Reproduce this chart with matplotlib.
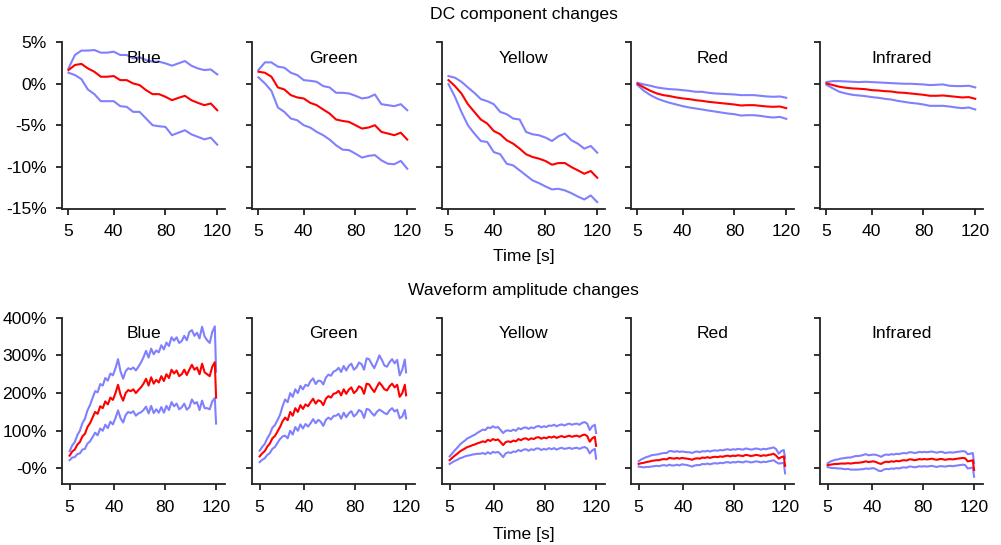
import numpy as np
import matplotlib
matplotlib.use("Agg")
import matplotlib.pyplot as plt

plt.rcParams['font.family'] = ['Liberation Sans', 'DejaVu Sans']

channels = ["Blue", "Green", "Yellow", "Red", "Infrared"]
x_ticks = [5, 40, 80, 120]
dc_yticks = [5, 0, -5, -10, -15]
dc_ylabels = ["5%", "0%", "-5%", "-10%", "-15%"]
amp_yticks = [400, 300, 200, 100, 0]
amp_ylabels = ["400%", "300%", "200%", "100%", "-0%"]

# ---- DC component changes (percent), sampled every 5 s from 5 to 120 s ----
t_dc = np.arange(5, 121, 5)

dc_mean = {
    "Blue": [1.65, 2.26, 2.4, 1.85, 1.45, 0.85, 0.85, 0.93, 0.44, 0.44, 0.04, -0.16,
             -0.77, -1.25, -1.25, -1.57, -1.98, -1.7, -1.45, -1.98, -2.3, -2.58, -2.38, -3.19],
    "Green": [1.45, 1.33, 0.85, -0.44, -0.69, -1.37, -1.65, -1.77, -2.3, -2.58, -3.1, -3.59,
              -4.31, -4.48, -4.6, -5.0, -5.4, -5.28, -5.0, -5.8, -6.0, -6.2, -5.9, -6.73],
    "Yellow": [0.44, -0.28, -1.17, -2.46, -3.39, -4.31, -4.8, -5.69, -6.09, -6.81, -7.22, -7.82,
               -8.5, -8.83, -9.03, -9.31, -9.76, -9.56, -9.56, -10.04, -10.44, -10.85, -10.52, -11.33],
    "Red": [0.0, -0.44, -0.85, -1.17, -1.37, -1.49, -1.65, -1.77, -1.85, -1.98, -2.06, -2.18,
            -2.26, -2.34, -2.42, -2.5, -2.62, -2.58, -2.58, -2.66, -2.74, -2.78, -2.74, -2.94],
    "Infrared": [0.04, -0.16, -0.36, -0.48, -0.56, -0.6, -0.65, -0.77, -0.81, -0.89, -0.93, -1.05,
                 -1.09, -1.17, -1.25, -1.33, -1.45, -1.45, -1.41, -1.49, -1.57, -1.65, -1.61, -1.81],
}
dc_upper = {
    "Blue": [1.85, 3.47, 4.0, 4.0, 4.07, 3.75, 3.75, 3.87, 3.47, 3.47, 3.06, 3.19,
             2.86, 2.66, 2.66, 2.46, 2.18, 2.46, 2.74, 2.18, 1.85, 1.65, 1.73, 1.13],
    "Green": [1.65, 2.58, 2.58, 2.06, 1.94, 1.33, 1.05, 0.44, 0.36, 0.24, -0.28, -0.44,
              -1.09, -1.09, -1.17, -1.45, -1.77, -1.65, -1.29, -2.46, -2.58, -2.7, -2.46, -3.19],
    "Yellow": [0.93, 0.73, 0.24, -0.44, -1.09, -1.85, -2.1, -2.46, -3.39, -3.67, -4.19, -4.31,
               -5.81, -6.09, -6.21, -6.49, -6.9, -6.33, -6.0, -6.81, -7.22, -7.82, -7.5, -8.31],
    "Red": [0.12, -0.08, -0.24, -0.44, -0.56, -0.65, -0.69, -0.77, -0.85, -0.97, -0.97, -1.09,
            -1.17, -1.21, -1.25, -1.29, -1.37, -1.37, -1.37, -1.45, -1.53, -1.57, -1.53, -1.69],
    "Infrared": [0.2, 0.32, 0.32, 0.28, 0.24, 0.2, 0.24, 0.2, 0.16, 0.12, 0.08, 0.04,
                 0.0, 0.0, -0.04, -0.08, -0.16, -0.12, -0.08, -0.24, -0.28, -0.28, -0.24, -0.44],
}
dc_lower = {
    "Blue": [1.33, 1.05, 0.56, -0.69, -1.25, -2.1, -2.1, -2.1, -2.7, -2.78, -3.39, -3.39,
             -4.19, -5.0, -5.12, -5.2, -6.2, -5.9, -5.6, -6.1, -6.4, -6.7, -6.5, -7.34],
    "Green": [0.77, 0.04, -0.85, -2.86, -3.39, -4.19, -4.4, -5.0, -5.28, -5.8, -6.2, -6.73,
              -7.42, -7.94, -8.0, -8.43, -8.9, -8.7, -8.6, -9.23, -9.64, -9.7, -9.3, -10.24],
    "Yellow": [-0.04, -1.57, -3.39, -5.0, -6.0, -6.9, -7.02, -8.23, -8.5, -9.64, -9.84, -10.44,
               -11.05, -11.65, -11.98, -12.38, -12.74, -12.66, -12.86, -13.19, -13.6, -13.95, -13.47, -14.27],
    "Red": [-0.16, -0.85, -1.37, -1.77, -2.06, -2.3, -2.5, -2.7, -2.86, -2.98, -3.1, -3.23,
            -3.35, -3.47, -3.59, -3.67, -3.83, -3.79, -3.79, -3.87, -3.99, -4.07, -3.99, -4.23],
    "Infrared": [-0.12, -0.56, -0.97, -1.17, -1.33, -1.41, -1.49, -1.61, -1.69, -1.81, -1.9, -2.06,
                 -2.18, -2.3, -2.38, -2.5, -2.66, -2.66, -2.66, -2.74, -2.86, -2.94, -2.86, -3.1],
}

# ---- Waveform amplitude changes (percent), sampled every 2 s from 5 to 119 s plus 120 s ----
t_amp = np.r_[np.arange(5, 120, 2), 120]

amp_mean = {
    "Blue": [34, 45, 50, 63, 70, 85, 92, 110, 120, 135,
             150, 145, 165, 160, 178, 170, 188, 182, 200, 222,
             195, 180, 200, 208, 205, 210, 200, 208, 215, 225,
             238, 220, 242, 225, 235, 228, 245, 232, 250, 240,
             262, 252, 260, 245, 250, 262, 248, 262, 275, 262,
             268, 250, 278, 255, 250, 245, 270, 282, 188],
    "Green": [32, 40, 46, 58, 66, 80, 86, 98, 110, 125,
              135, 128, 150, 140, 160, 150, 168, 158, 170, 165,
              176, 185, 172, 181, 178, 168, 185, 192, 188, 198,
              200, 206, 194, 210, 198, 209, 215, 200, 206, 218,
              214, 198, 225, 223, 212, 203, 216, 228, 220, 210,
              207, 218, 225, 215, 222, 190, 200, 222, 194],
    "Yellow": [22, 28, 34, 39, 45, 49, 53, 57, 59, 62,
               64, 67, 69, 72, 70, 76, 73, 78, 75, 77,
               70, 62, 70, 72, 70, 74, 72, 78, 75, 79,
               80, 76, 80, 78, 82, 83, 79, 82, 80, 84,
               82, 85, 81, 84, 86, 83, 85, 87, 84, 86,
               87, 84, 88, 90, 86, 71, 80, 84, 60],
    "Red": [12, 14, 15, 17, 18, 20, 21, 22, 22, 24,
            25, 24, 28, 27, 26, 28, 26, 28, 27, 26,
            25, 23, 26, 27, 26, 29, 28, 30, 28, 30,
            31, 30, 32, 31, 33, 34, 32, 34, 33, 35,
            34, 33, 36, 35, 33, 34, 36, 35, 33, 35,
            34, 36, 37, 39, 34, 26, 30, 32, 7],
    "Infrared": [9, 10, 11, 12, 12, 13, 13, 13, 14, 13,
                 14, 15, 15, 16, 17, 19, 17, 18, 19, 17,
                 14, 12, 16, 18, 17, 19, 18, 20, 19, 21,
                 22, 21, 24, 24, 22, 23, 25, 24, 25, 24,
                 25, 26, 24, 23, 25, 25, 23, 24, 25, 24,
                 25, 26, 27, 28, 27, 19, 20, 22, -4],
}
amp_sd = {
    "Blue": [12, 16, 20, 25, 30, 35, 40, 44, 48, 52,
             55, 57, 59, 60, 62, 63, 64, 65, 66, 68,
             62, 58, 58, 58, 58, 58, 60, 62, 66, 70,
             74, 74, 76, 78, 78, 80, 82, 84, 84, 85,
             86, 87, 88, 88, 88, 90, 92, 100, 92, 90,
             92, 95, 98, 95, 90, 88, 92, 95, 69],
    "Green": [15, 17, 19, 22, 25, 28, 29, 30, 32, 40,
              48, 48, 50, 50, 50, 50, 51, 52, 52, 54,
              56, 54, 52, 52, 54, 55, 56, 57, 58, 59,
              60, 61, 62, 62, 62, 63, 63, 62, 62, 63,
              63, 64, 67, 67, 65, 63, 66, 72, 68, 63,
              63, 64, 65, 64, 66, 57, 62, 67, 61],
    "Yellow": [10, 12, 14, 16, 18, 20, 21, 23, 24, 25,
               26, 28, 30, 31, 32, 33, 34, 34, 33, 33,
               32, 32, 30, 29, 29, 29, 28, 29, 29, 29,
               29, 29, 29, 29, 29, 30, 30, 30, 30, 30,
               31, 31, 31, 31, 31, 31, 32, 32, 32, 32,
               32, 32, 33, 33, 33, 31, 32, 32, 34],
    "Red": [7, 10, 12, 13, 14, 15, 15, 15, 16, 16,
            16, 17, 18, 19, 18, 18, 18, 17, 17, 17,
            18, 18, 18, 18, 17, 17, 17, 17, 17, 17,
            17, 17, 17, 17, 17, 17, 17, 17, 17, 17,
            17, 17, 17, 17, 17, 17, 17, 17, 17, 17,
            17, 17, 17, 17, 17, 13, 16, 17, 20],
    "Infrared": [5, 8, 10, 11, 12, 13, 14, 15, 15, 16,
                 17, 18, 18, 18, 19, 19, 18, 18, 18, 19,
                 20, 19, 19, 19, 19, 19, 19, 19, 19, 19,
                 19, 19, 19, 19, 19, 19, 19, 19, 19, 19,
                 19, 19, 19, 19, 19, 19, 18, 18, 18, 18,
                 18, 18, 18, 18, 18, 19, 19, 19, 18],
}

BAND = "#8080ff"
MEAN = "#ff0000"
FS = 12.6

fig = plt.figure(figsize=(10.01, 5.45), dpi=100)
W, H = 1001.0, 545.0
lefts_px = [62, 252, 442, 631, 820]
width_px = 163
rows = [
    dict(top=42.3, bottom=209.0, xlim=(0, 126), ylim=(-15.1, 5.0), yt=dc_yticks, yl=dc_ylabels,
         title="DC component changes", title_y=15, xlabel_y=257),
    dict(top=317.7, bottom=484.3, xlim=(-1, 127), ylim=(-42, 400), yt=amp_yticks, yl=amp_ylabels,
         title="Waveform amplitude changes", title_y=291, xlabel_y=535),
]

for r, row in enumerate(rows):
    for c, ch in enumerate(channels):
        ax = fig.add_axes([lefts_px[c] / W, 1 - row["bottom"] / H, width_px / W,
                           (row["bottom"] - row["top"]) / H])
        if r == 0:
            ax.plot(t_dc, dc_upper[ch], color=BAND, lw=1.5)
            ax.plot(t_dc, dc_lower[ch], color=BAND, lw=1.5)
            ax.plot(t_dc, dc_mean[ch], color=MEAN, lw=1.5)
        else:
            m = np.array(amp_mean[ch], dtype=float)
            s = np.array(amp_sd[ch], dtype=float)
            ax.plot(t_amp, m + s, color=BAND, lw=1.5)
            ax.plot(t_amp, m - s, color=BAND, lw=1.5)
            ax.plot(t_amp, m, color=MEAN, lw=1.5)
        ax.set_xlim(*row["xlim"])
        ax.set_ylim(*row["ylim"])
        for sp in ("top", "right"):
            ax.spines[sp].set_visible(False)
        for sp in ("left", "bottom"):
            ax.spines[sp].set_linewidth(1.3)
            ax.spines[sp].set_color("#222222")
        ax.set_xticks(x_ticks)
        ax.set_xticklabels([str(v) for v in x_ticks])
        ax.set_yticks(row["yt"])
        if c == 0:
            ax.set_yticklabels(row["yl"])
        else:
            ax.set_yticklabels([])
        ax.tick_params(axis="both", direction="out", length=4, width=1.3, color="#222222",
                       labelsize=FS, pad=7)
        ax.text(0.5, 1 - 16 / (row["bottom"] - row["top"]), ch, transform=ax.transAxes,
                ha="center", va="center", fontsize=FS)
        if c == 2:
            cx = (lefts_px[c] + width_px / 2) / W
            fig.text(cx, 1 - row["title_y"] / H, row["title"], ha="center", va="center", fontsize=FS)
            fig.text(cx, 1 - row["xlabel_y"] / H, "Time [s]", ha="center", va="center", fontsize=FS)

fig.savefig("out.png", dpi=100)
